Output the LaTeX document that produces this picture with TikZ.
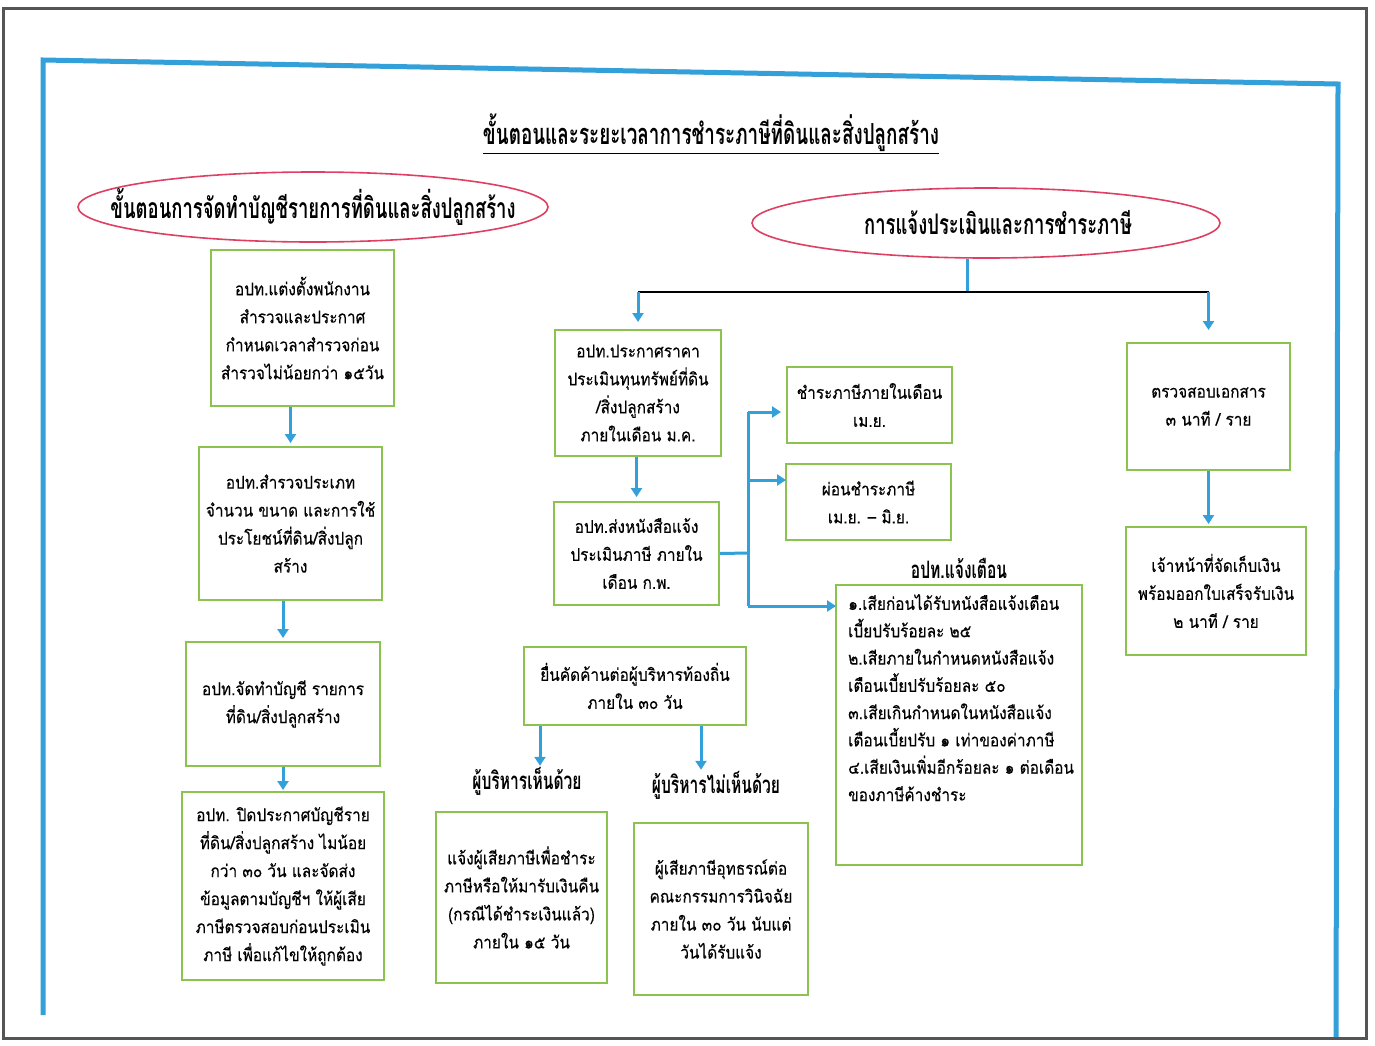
\documentclass[tikz,border=0pt]{standalone}
\usepackage{fontspec}
\setmainfont{Loma}[Script=Thai]
\newfontfamily\headfont{Loma}[Script=Thai,FakeStretch=0.65]
\newfontfamily\bodyfont{Loma}[Script=Thai,FakeStretch=0.88,FakeBold=0.3]
\usetikzlibrary{arrows.meta,shapes.geometric,calc}
\definecolor{frameblue}{RGB}{52,160,218}
\definecolor{boxgreen}{RGB}{140,195,80}
\definecolor{ellred}{RGB}{222,64,100}
\definecolor{framegray}{RGB}{85,85,85}
\begin{document}
\begin{tikzpicture}[x=1pt,y=-1pt,
  box/.style={draw=boxgreen, line width=2pt, align=center, inner sep=4pt, font=\bodyfont\fontsize{17.5}{28}\selectfont},
  plainbox/.style={draw=boxgreen, line width=2pt},
  oval/.style={ellipse, draw=ellred, line width=1.6pt, inner sep=0pt},
  headtext/.style={font=\headfont\bfseries\fontsize{29}{34}\selectfont, inner sep=1pt},
  ovaltext/.style={font=\headfont\bfseries\fontsize{28.4}{34}\selectfont, inner sep=1pt},
  arr/.style={draw=frameblue, line width=3pt, -{Triangle[width=11pt,length=9pt]}},
  bline/.style={draw=frameblue, line width=3pt},
  lbl/.style={font=\headfont\bfseries\fontsize{24}{28}\selectfont, inner sep=1pt}
]
\useasboundingbox (0,0) rectangle (1375,1045);
\fill[white] (0,0) rectangle (1375,1045);
% frames
\draw[framegray, line width=3pt] (3,8) rectangle (1366,1038);
\coordinate (ftl) at (43,60);
\coordinate (ftr) at (1338,84);
\coordinate (fbl) at (43,1015);
\coordinate (fbr) at (1336,1037);
\draw[frameblue, line width=5pt] (fbl) -- (ftl) -- (ftr) -- (fbr);

% title
\node[headtext] (title) at (711,134) {\underline{ขั้นตอนและระยะเวลาการชำระภาษีที่ดินและสิ่งปลูกสร้าง}};

% ellipses
\node[oval, minimum width=470pt, minimum height=70pt] (L) at (313,207) {};
\node[ovaltext] (Ltext) at (313,207) {ขั้นตอนการจัดทำบัญชีรายการที่ดินและสิ่งปลูกสร้าง};
\node[oval, minimum width=468pt, minimum height=70pt] (R) at (986,223) {};
\node[ovaltext] (Rtext) at (998,223) {การแจ้งประเมินและการชำระภาษี};

% left column
\node[box, minimum width=183pt, minimum height=156pt] (B1) at (302.5,328) {อปท.แต่งตั้งพนักงาน\\สำรวจและประกาศ\\กำหนดเวลาสำรวจก่อน\\สำรวจไม่น้อยกว่า ๑๕วัน};
\node[box, minimum width=183pt, minimum height=153pt] (B2) at (290.5,523.5) {อปท.สำรวจประเภท\\จำนวน ขนาด และการใช้\\ประโยชน์ที่ดิน/สิ่งปลูก\\สร้าง};
\node[box, minimum width=194pt, minimum height=124pt] (B3) at (283,704) {อปท.จัดทำบัญชี รายการ\\ที่ดิน/สิ่งปลูกสร้าง};
\node[box, minimum width=202pt, minimum height=188pt] (B4) at (283,886) {อปท. ปิดประกาศบัญชีราย\\ที่ดิน/สิ่งปลูกสร้าง ไมน้อย\\กว่า ๓๐ วัน และจัดส่ง\\ข้อมูลตามบัญชีฯ ให้ผู้เสีย\\ภาษีตรวจสอบก่อนประเมิน\\ภาษี เพื่อแก้ไขให้ถูกต้อง};
\draw[arr, shorten >=3pt] (B1.south -| B2.north) -- (B2.north);
\draw[arr, shorten >=3pt] (B2.south -| B3.north) -- (B3.north);
\draw[arr, shorten >=1pt] (B3.south -| B4.north) -- (B4.north);

% right part
\node[box, minimum width=166pt, minimum height=126pt] (C1) at (638,393) {อปท.ประกาศราคา\\ประเมินทุนทรัพย์ที่ดิน\\/สิ่งปลูกสร้าง\\ภายในเดือน ม.ค.};
\node[box, minimum width=165pt, minimum height=103pt] (C2) at (636.5,553.5) {อปท.ส่งหนังสือแจ้ง\\ประเมินภาษี ภายใน\\เดือน ก.พ.};
\node[box, minimum width=165pt, minimum height=76pt] (D1) at (869.5,405) {ชำระภาษีภายในเดือน\\เม.ย.};
\node[box, minimum width=165pt, minimum height=76pt] (D2) at (868.5,502) {ผ่อนชำระภาษี\\เม.ย. – มิ.ย.};
\node[lbl] (Elbl) at (959,568) {อปท.แจ้งเตือน};
\node[plainbox, minimum width=246pt, minimum height=280pt] (E) at (959,725) {};
\node[anchor=north west, align=left, inner sep=0pt, font=\bodyfont\fontsize{17.5}{27.3}\selectfont] (Etext) at (848,594) {๑.เสียก่อนได้รับหนังสือแจ้งเตือน\\เบี้ยปรับร้อยละ ๒๕\\๒.เสียภายในกำหนดหนังสือแจ้ง\\เตือนเบี้ยปรับร้อยละ ๕๐\\๓.เสียเกินกำหนดในหนังสือแจ้ง\\เตือนเบี้ยปรับ ๑ เท่าของค่าภาษี\\๔.เสียเงินเพิ่มอีกร้อยละ ๑ ต่อเดือน\\ของภาษีค้างชำระ};
\node[box, minimum width=163pt, minimum height=127pt] (F1) at (1208.5,406.5) {ตรวจสอบเอกสาร\\๓ นาที / ราย};
\node[box, minimum width=180pt, minimum height=128pt] (F2) at (1216,591) {เจ้าหน้าที่จัดเก็บเงิน\\พร้อมออกใบเสร็จรับเงิน\\๒ นาที / ราย};
\node[box, minimum width=222pt, minimum height=78pt] (G) at (635,686) {ยื่นคัดค้านต่อผู้บริหารท้องถิ่น\\ภายใน ๓๐ วัน};
\node[lbl] (L1) at (527,781) {ผู้บริหารเห็นด้วย};
\node[lbl] (L2) at (716,785) {ผู้บริหารไม่เห็นด้วย};
\node[box, minimum width=171pt, minimum height=171pt] (H1) at (521.5,897.5) {แจ้งผู้เสียภาษีเพื่อชำระ\\ภาษีหรือให้มารับเงินคืน\\(กรณีได้ชำระเงินแล้ว)\\ภายใน ๑๕ วัน};
\node[box, minimum width=174pt, minimum height=172pt] (H2) at (721,909) {ผู้เสียภาษีอุทธรณ์ต่อ\\คณะกรรมการวินิจฉัย\\ภายใน ๓๐ วัน นับแต่\\วันได้รับแจ้ง};

% connectors from R
\coordinate (hub) at (967,292);
\draw[bline] (hub |- R.south) -- (hub);
\draw[black, line width=1.6pt] (C1.north |- hub) -- (F1.north |- hub);
\draw[arr, shorten >=7pt] (C1.north |- hub) -- (C1.north);
\draw[arr, shorten >=12pt] (F1.north |- hub) -- (F1.north);
\draw[arr, shorten >=4pt] (C1.south -| C2.north) -- (C2.north);

% bus from C2
\coordinate (bus) at (748,553);
\coordinate (jD1) at (787,412);
\coordinate (jD2) at (786,480);
\coordinate (jE) at (836,606);
\draw[bline] (C2.east) -- (bus);
\draw[bline] (bus |- jD1) -- (bus |- jE);
\draw[arr, shorten >=6pt] (bus |- jD1) -- (jD1);
\draw[arr] (bus |- jD2) -- (jD2);
\draw[arr] (bus |- jE) -- (jE);

\draw[arr, shorten >=2pt] (F1.south) -- (F1.south |- F2.north);

% from G
\draw[arr] ([xshift=-95pt]G.south) -- ([xshift=-95pt]G.south |- L1.north);
\draw[arr] ([xshift=66pt]G.south) -- ([xshift=66pt]G.south |- L2.north);
\end{tikzpicture}
\end{document}
